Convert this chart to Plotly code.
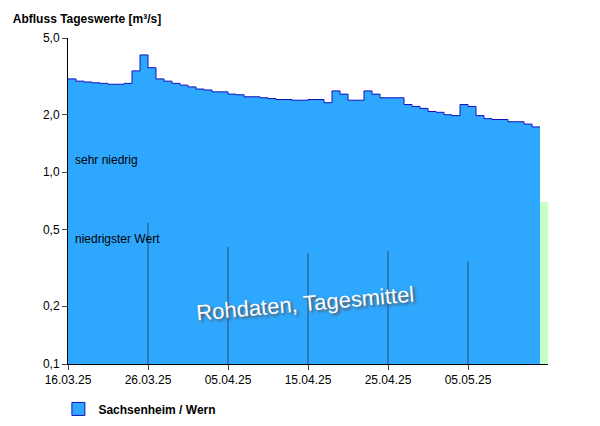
import plotly.graph_objects as go
import pandas as pd
import math

# daily mean discharge [m³/s], 16.03.25 .. 13.05.25
start = "2025-03-16"
flow = [3.06, 2.98, 2.95, 2.92, 2.9, 2.87, 2.87, 2.9, 3.37, 4.08,
        3.5, 3.06, 2.98, 2.9, 2.84, 2.78, 2.71, 2.68, 2.62, 2.62,
        2.55, 2.53, 2.47, 2.47, 2.44, 2.42, 2.39, 2.39, 2.37, 2.37,
        2.39, 2.39, 2.3, 2.65, 2.55, 2.37, 2.37, 2.65, 2.55, 2.44,
        2.44, 2.44, 2.25, 2.2, 2.15, 2.07, 2.05, 1.99, 1.97, 2.25,
        2.2, 1.97, 1.9, 1.88, 1.88, 1.83, 1.83, 1.78, 1.72]
dates = list(pd.date_range(start, periods=len(flow) + 1, freq="D"))
flow_step = flow + [flow[-1]]

sehr_niedrig = 1.04
niedrigster = 0.40
tick_vals = [0.1, 0.2, 0.5, 1.0, 2.0, 5.0]
tick_text = ["0,1", "0,2", "0,5", "1,0", "2,0", "5,0"]
date_ticks = pd.date_range("2025-03-16", "2025-05-05", freq="10D")

fig = go.Figure()
fig.add_trace(go.Scatter(
    x=dates, y=flow_step, mode="lines", line_shape="hv",
    line=dict(color="#1010c0", width=1), fill="tozeroy",
    fillcolor="#2ea8ff", showlegend=False))
# legend entry with a square marker
fig.add_trace(go.Scatter(
    x=[None], y=[None], mode="markers", name="<b>Sachsenheim / Wern</b>",
    marker=dict(symbol="square", size=13, color="#2ea8ff",
                line=dict(color="#1010c0", width=1))))

x0, x1 = "2025-03-16", "2025-05-15"
for lo, hi, col in [(0.1, niedrigster, "#f08080"),
                    (niedrigster, sehr_niedrig, "#ffe0a8"),
                    (sehr_niedrig, 5.0, "#c6ffc6")]:
    fig.add_shape(type="rect", xref="x", yref="y", x0=x0, x1=x1,
                  y0=math.log10(lo), y1=math.log10(hi),
                  fillcolor=col, line_width=0, layer="below")
for d in date_ticks[1:]:
    v = flow[dates.index(d)] if d in dates else flow[-1]
    fig.add_shape(type="line", xref="x", yref="y", x0=d, x1=d, y0=-1,
                  y1=math.log10(v), line=dict(color="#333333", width=0.8))
fig.add_shape(type="line", xref="paper", yref="y", x0=0, x1=1,
              y0=math.log10(sehr_niedrig), y1=math.log10(sehr_niedrig),
              line=dict(color="rgba(255,255,255,0.5)", width=1))
fig.add_shape(type="line", xref="paper", yref="y", x0=0, x1=1,
              y0=math.log10(niedrigster), y1=math.log10(niedrigster),
              line=dict(color="#333333", width=0.8))

fig.add_annotation(x=0.01, y=math.log10(sehr_niedrig), xref="paper", yref="y",
                   text="sehr niedrig", showarrow=False, xanchor="left", yanchor="bottom",
                   font=dict(size=12, color="black"))
fig.add_annotation(x=0.01, y=math.log10(niedrigster), xref="paper", yref="y",
                   text="niedrigster Wert", showarrow=False, xanchor="left", yanchor="bottom",
                   font=dict(size=12, color="black"))
fig.add_annotation(x=0.495, y=0.11, xref="paper", yref="paper", text="Rohdaten, Tagesmittel",
                   showarrow=False, textangle=-5,
                   font=dict(size=22, color="white", shadow="2px 2px 3px #555"))

fig.update_layout(
    width=600, height=426, margin=dict(l=60, r=60, t=30, b=69),
    paper_bgcolor="white", plot_bgcolor="white",
    font=dict(family="Liberation Sans, Arial", size=12, color="black"),
    title=dict(text="<b>Abfluss Tageswerte [m³/s]</b>", x=0.008, xanchor="left",
               y=0.985, yanchor="top", font=dict(size=12)),
    showlegend=True,
    legend=dict(x=-0.02, y=-0.09, xanchor="left", yanchor="top",
                font=dict(size=12)),
    xaxis=dict(range=[x0, x1], tickvals=date_ticks, tickformat="%d.%m.%y",
               showgrid=False, showline=True, linecolor="black", ticks="outside",
               tickfont=dict(size=12), automargin=False),
    yaxis=dict(type="log", range=[-1, 0.69897], tickvals=tick_vals, ticktext=tick_text,
               showgrid=False, showline=True, linecolor="black", ticks="outside",
               tickfont=dict(size=12), automargin=False),
)

fig.write_html("out.html")
